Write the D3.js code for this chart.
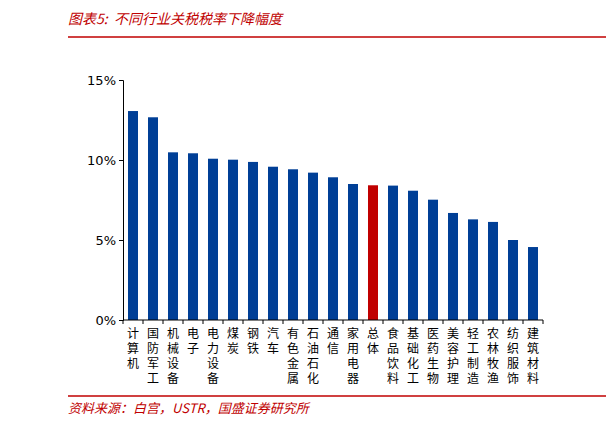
<!DOCTYPE html>
<html><head><meta charset="utf-8">
<script src="https://cdn.jsdelivr.net/npm/d3@7"></script>
<style>body{margin:0;background:#fff}</style>
</head><body>
<script>
var categories = ["计算机","国防军工","机械设备","电子","电力设备","煤炭","钢铁","汽车","有色金属","石油石化","通信","家用电器","总体","食品饮料","基础化工","医药生物","美容护理","轻工制造","农林牧渔","纺织服饰","建筑材料"];
var values = [13.06,12.67,10.48,10.42,10.08,10.02,9.88,9.58,9.42,9.21,8.92,8.5,8.42,8.4,8.08,7.52,6.69,6.29,6.13,5.0,4.56];
var yTicks = [0,5,10,15];

var W = 606, H = 428;
var svg = d3.select("body").append("svg").attr("width", W).attr("height", H);
var red = "#c00000", font = "'Noto Sans CJK SC', sans-serif";

svg.append("text").attr("x", 68).attr("y", 24).attr("fill", red).attr("font-size", 14)
    .attr("font-style", "italic").attr("font-family", font).text("图表5:\u00a0\u00a0不同行业关税税率下降幅度");
svg.append("line").attr("x1", 68).attr("x2", 606).attr("y1", 37).attr("y2", 37).attr("stroke", red).attr("stroke-width", 1.5);
svg.append("line").attr("x1", 68).attr("x2", 606).attr("y1", 396).attr("y2", 396).attr("stroke", red).attr("stroke-width", 1.5);
svg.append("text").attr("x", 68).attr("y", 413).attr("fill", red).attr("font-size", 13)
    .attr("font-style", "italic").attr("font-family", font).text("资料来源：白宫，USTR，国盛证券研究所");

var x = d3.scaleBand().domain(categories).range([123, 543]).paddingInner(0.5).paddingOuter(0.25);
var y = d3.scaleLinear().domain([0, 15]).range([320, 80]);

var g = svg.append("g");
g.selectAll("rect").data(values).enter().append("rect")
    .attr("x", function (d, i) { return x(categories[i]); })
    .attr("width", x.bandwidth())
    .attr("y", function (d) { return y(d); })
    .attr("height", function (d) { return y(0) - y(d); })
    .attr("fill", function (d, i) { return categories[i] === "总体" ? "#c00000" : "#003f96"; });

var ya = svg.append("g").attr("transform", "translate(123,0)")
    .call(d3.axisLeft(y).tickValues(yTicks).tickSize(4).tickFormat(function (d) { return d + "%"; }));
ya.select(".domain").attr("stroke", "#000");
ya.selectAll("text").attr("font-size", 13).attr("font-family", "Verdana, 'DejaVu Sans', sans-serif").attr("fill", "#000");

var xa = svg.append("g").attr("transform", "translate(0,320)");
xa.append("line").attr("x1", 123).attr("x2", 543).attr("stroke", "#000");
var step = x.step();
xa.selectAll(".tk").data(d3.range(categories.length + 1)).enter().append("line")
    .attr("x1", function (i) { return 123 + i * step; }).attr("x2", function (i) { return 123 + i * step; })
    .attr("y1", 0).attr("y2", 4).attr("stroke", "#000");
categories.forEach(function (c, i) {
    var cx = x(c) + x.bandwidth() / 2;
    c.split("").forEach(function (ch, j) {
        xa.append("text").attr("x", cx).attr("y", 18 + j * 15).attr("text-anchor", "middle")
            .attr("font-size", 12).attr("font-family", font).text(ch);
    });
});
</script>
</body></html>
